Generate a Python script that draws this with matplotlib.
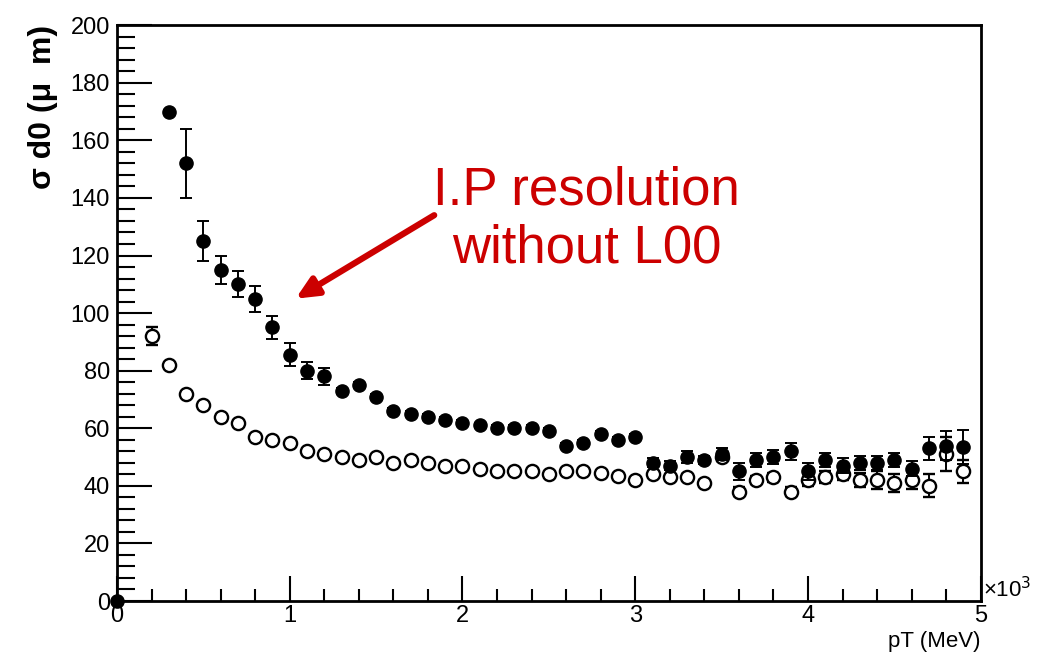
import matplotlib
matplotlib.use('Agg')
import matplotlib.pyplot as plt
from matplotlib.ticker import MultipleLocator, FuncFormatter
import numpy as np

plt.rcParams['font.family'] = ['Liberation Sans', 'DejaVu Sans']

# pT in MeV
pt_with = [0, 300, 400, 500, 600, 700, 800, 900, 1000, 1100, 1200, 1300, 1400, 1500,
           1600, 1700, 1800, 1900, 2000, 2100, 2200, 2300, 2400, 2500, 2600, 2700, 2800,
           2900, 3000, 3100, 3200, 3300, 3400, 3500, 3600, 3700, 3800, 3900, 4000, 4100,
           4200, 4300, 4400, 4500, 4600, 4700, 4800, 4900]
d0_with = [0, 170, 152, 125, 115, 110, 105, 95, 85.5, 80, 78, 73, 75, 71,
           66, 65, 64, 63, 62, 61, 60, 60, 60, 59, 54, 55, 58,
           56, 57, 48, 47, 50, 49, 51, 45, 49, 50, 52, 45, 49,
           47, 48, 48, 49, 46, 53, 54, 53.5]
err_with = [0, 0.5, 12, 7, 5, 4.5, 4.5, 4, 4, 3, 3, 1, 1, 1,
            1, 1, 1, 1, 1, 1, 1, 1, 1, 1, 1, 1, 1,
            1, 1, 1.5, 1.5, 2, 1.5, 2, 3, 2.5, 2.5, 3, 3, 2.5,
            2.5, 2.5, 2.5, 2.5, 2.5, 4, 5, 6]

pt_open = [200, 300, 400, 500, 600, 700, 800, 900, 1000, 1100, 1200, 1300, 1400, 1500,
           1600, 1700, 1800, 1900, 2000, 2100, 2200, 2300, 2400, 2500, 2600, 2700, 2800,
           2900, 3000, 3100, 3200, 3300, 3400, 3500, 3600, 3700, 3800, 3900, 4000, 4100,
           4200, 4300, 4400, 4500, 4600, 4700, 4800, 4900]
d0_open = [92, 82, 72, 68, 64, 62, 57, 56, 55, 52, 51, 50, 49, 50,
           48, 49, 48, 47, 47, 46, 45, 45, 45, 44, 45, 45, 44.5,
           43.5, 42, 44, 43, 43, 41, 50, 38, 42, 43, 38, 42, 43,
           44, 42, 42, 41, 42, 40, 51, 45]
err_open = [3, 0.5, 0.5, 0.5, 0.5, 0.5, 0.5, 0.5, 0.5, 0.5, 0.5, 0.5, 0.5, 0.5,
            0.5, 0.5, 0.5, 0.5, 0.5, 0.5, 0.5, 0.5, 0.5, 0.5, 0.5, 0.5, 0.5,
            0.5, 0.5, 1, 1, 1, 1, 1.5, 1.5, 1.5, 1.5, 1.5, 2, 2,
            2, 2.5, 3, 3, 3, 4, 6, 4]

fig = plt.figure(figsize=(10.4, 6.63), dpi=100)
ax = fig.add_axes([0.1125, 0.0935, 0.8305, 0.8685])

x_w = np.array(pt_with) / 1000.0
x_o = np.array(pt_open) / 1000.0

ax.errorbar(x_o, d0_open, yerr=err_open, fmt='o', ms=9.5, mfc='white', mec='black',
            mew=1.7, ecolor='black', elinewidth=1.4, capsize=4, capthick=1.4, zorder=3)
ax.errorbar(x_w, d0_with, yerr=err_with, fmt='o', ms=9.5, mfc='black', mec='black',
            ecolor='black', elinewidth=1.4, capsize=4, capthick=1.4, zorder=4,
            clip_on=False)

ax.set_xlim(0, 5)
ax.set_ylim(0, 200)

ax.xaxis.set_major_locator(MultipleLocator(1))
ax.xaxis.set_minor_locator(MultipleLocator(0.2))
ax.yaxis.set_major_locator(MultipleLocator(20))
ax.yaxis.set_minor_locator(MultipleLocator(4))
ax.xaxis.set_major_formatter(FuncFormatter(lambda v, p: '%d' % v))

ax.tick_params(axis='both', which='both', direction='in', top=False, right=False,
               labelsize=17, width=1.5)
ax.tick_params(axis='y', which='major', length=25, pad=5)
ax.tick_params(axis='y', which='minor', length=13)
ax.tick_params(axis='x', which='major', length=18, pad=3)
ax.tick_params(axis='x', which='minor', length=9)

for s in ax.spines.values():
    s.set_linewidth(2)

ax.set_ylabel('\u03c3 d0 (\u03bc  m)', fontsize=23, fontweight='bold', loc='top', labelpad=9)
ax.set_xlabel('pT (MeV)', fontsize=16, loc='right', labelpad=3)
ax.text(1.003, -0.002, '\u00d710$^3$', transform=ax.transAxes, fontsize=16,
        ha='left', va='bottom')

ax.annotate('', xy=(1.02, 104.5), xytext=(1.85, 134.5),
            arrowprops=dict(arrowstyle='-|>,head_length=1.3,head_width=0.6',
                            color='#cc0000', lw=4.5))
ax.text(2.72, 132.5, 'I.P resolution\nwithout L00', color='#cc0000', fontsize=38,
        ha='center', va='center', linespacing=1.2)

fig.savefig('out.png', dpi=100)
